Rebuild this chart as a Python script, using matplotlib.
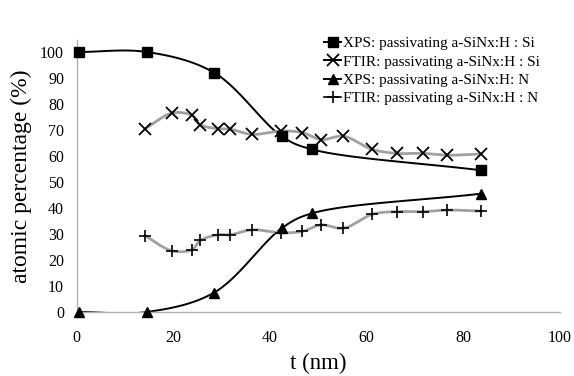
import numpy as np
import matplotlib
matplotlib.use("Agg")
import matplotlib.pyplot as plt

# XPS data (thickness in nm, atomic %)
xps_t = [0.5, 14.5, 28.5, 42.5, 48.8, 83.7]
xps_si = [100, 100, 92, 67.5, 62.5, 54.5]
xps_n = [0, 0, 7.5, 32.3, 38, 45.5]

# FTIR data
ftir_t = [14.2, 19.8, 23.9, 25.6, 29.3, 31.8, 36.3, 42.3, 46.7, 50.6, 55.2, 61.2, 66.3, 71.7, 76.7, 83.7]
ftir_si = [70.5, 76.5, 75.6, 72, 70.5, 70.3, 68.3, 69.6, 69, 66.3, 67.6, 62.5, 61, 61, 60.3, 60.8]
ftir_n = [29.3, 23.5, 24, 27.5, 29.7, 29.7, 31.6, 30.5, 31, 33.5, 32.2, 37.6, 38.6, 38.6, 39.2, 38.8]

xticks = [0, 20, 40, 60, 80, 100]
yticks = list(range(0, 101, 10))


def smooth(x, y, n=24, sx=4.84, sy=2.6):
    # centripetal catmull-rom in screen units, close to excel's smoothed line
    P = np.column_stack([np.asarray(x, float) * sx, np.asarray(y, float) * sy])
    P = np.vstack([2 * P[0] - P[1], P, 2 * P[-1] - P[-2]])
    out = []
    for i in range(1, len(P) - 2):
        p0, p1, p2, p3 = P[i - 1:i + 3]
        t0 = 0.0
        t1 = t0 + np.linalg.norm(p1 - p0) ** 0.5
        t2 = t1 + np.linalg.norm(p2 - p1) ** 0.5
        t3 = t2 + np.linalg.norm(p3 - p2) ** 0.5
        t = np.linspace(t1, t2, n)[:, None]
        a1 = (t1 - t) / (t1 - t0) * p0 + (t - t0) / (t1 - t0) * p1
        a2 = (t2 - t) / (t2 - t1) * p1 + (t - t1) / (t2 - t1) * p2
        a3 = (t3 - t) / (t3 - t2) * p2 + (t - t2) / (t3 - t2) * p3
        b1 = (t2 - t) / (t2 - t0) * a1 + (t - t0) / (t2 - t0) * a2
        b2 = (t3 - t) / (t3 - t1) * a2 + (t - t1) / (t3 - t1) * a3
        out.append((t2 - t) / (t2 - t1) * b1 + (t - t1) / (t2 - t1) * b2)
    out = np.vstack(out)
    return out[:, 0] / sx, out[:, 1] / sy


plt.rcParams["font.family"] = ["Liberation Serif", "DejaVu Serif"]

fig = plt.figure(figsize=(5.74, 3.76), dpi=100)
ax = fig.add_axes([0.1333, 0.1702, 0.8423, 0.7234])

gray = "#a0a0a0"
ax.plot(*smooth(xps_t, xps_si), color="black", lw=1.4)
ax.plot(*smooth(ftir_t, ftir_si), color=gray, lw=2.0)
ax.plot(*smooth(xps_t, xps_n), color="black", lw=1.4)
ax.plot(*smooth(ftir_t, ftir_n), color=gray, lw=2.0)

ax.plot(xps_t, xps_si, ls="none", marker="s", ms=6.5, color="black", clip_on=False, zorder=4)
ax.plot(ftir_t, ftir_si, ls="none", marker="x", ms=8, mew=1.3, color="black", zorder=4)
ax.plot(xps_t, xps_n, ls="none", marker="^", ms=7.5, color="black", clip_on=False, zorder=4)
ax.plot(ftir_t, ftir_n, ls="none", marker="+", ms=9, mew=1.2, color="black", zorder=4)

# legend handles
h1, = ax.plot([], [], color="black", lw=1.4, marker="s", ms=6.5)
h2, = ax.plot([], [], color="black", lw=1.4, marker="x", ms=8, mew=1.3)
h3, = ax.plot([], [], color="black", lw=1.4, marker="^", ms=7.5)
h4, = ax.plot([], [], color="black", lw=1.2, marker="+", ms=9, mew=1.2)
ax.legend([h1, h2, h3, h4],
          ["XPS: passivating a-SiNx:H : Si", "FTIR: passivating a-SiNx:H : Si",
           "XPS: passivating a-SiNx:H: N", "FTIR: passivating a-SiNx:H : N"],
          loc="upper left", bbox_to_anchor=(0.5, 1.035), frameon=False,
          fontsize=11, handlelength=1.1, handletextpad=0.15, labelspacing=0.3,
          borderaxespad=0)

ax.set_xlim(0, 100)
ax.set_ylim(0, 104.6)
ax.set_xticks(xticks)
ax.set_yticks(yticks)
ax.tick_params(length=0, labelsize=11.5, pad=9)
ax.tick_params(axis="x", pad=13)
for side in ("top", "right"):
    ax.spines[side].set_visible(False)
for side in ("left", "bottom"):
    ax.spines[side].set_color("#b0b0b0")
    ax.spines[side].set_linewidth(1.0)

ax.set_xlabel("t (nm)", fontsize=16.5, labelpad=5)
ax.set_ylabel("atomic percentage (%)", fontsize=17, labelpad=6)

fig.savefig("out.png", dpi=100)
